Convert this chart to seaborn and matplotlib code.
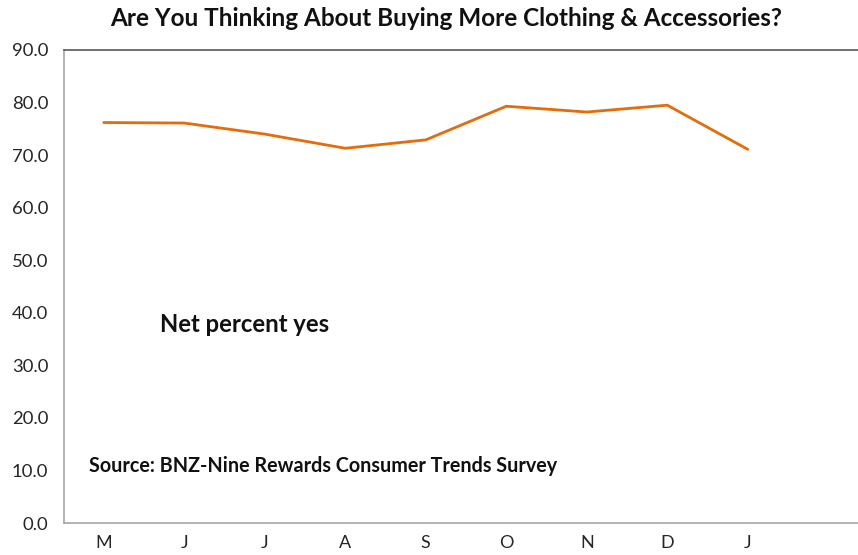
import matplotlib
matplotlib.use("Agg")
import matplotlib.pyplot as plt
import seaborn as sns
import pandas as pd

months = ["M", "J", "J", "A", "S", "O", "N", "D", "J"]
net_yes = [76.2, 76.1, 74.0, 71.3, 72.9, 79.3, 78.2, 79.5, 71.1]
y_ticks = [0, 10, 20, 30, 40, 50, 60, 70, 80, 90]

title = "Are You Thinking About Buying More Clothing & Accessories?"
series_note = "Net percent yes"
source_note = "Source: BNZ-Nine Rewards Consumer Trends Survey"

sns.set_theme(style="white")
plt.rcParams["font.family"] = ["Lato", "DejaVu Sans"]

df = pd.DataFrame({"pos": range(len(months)), "value": net_yes})

fig = plt.figure(figsize=(8.58, 5.55), dpi=100)
W, H = 858, 555
left, right, top, bottom = 63.5, 868.5, 50, 523
ax = fig.add_axes([left / W, (H - bottom) / H, (right - left) / W, (bottom - top) / H])

sns.lineplot(data=df, x="pos", y="value", ax=ax, color="#E46C0A", linewidth=2.0)

ax.set_xlim(-0.5, 9.5)
ax.set_ylim(0, 90)
ax.set_yticks(y_ticks)
ax.set_yticklabels([f"{v:.1f}" for v in y_ticks], fontsize=13.3, color="#262626")
ax.set_xticks(range(len(months)))
ax.set_xticklabels(months, fontsize=13.0, color="#262626")
ax.set_xticks([i - 0.5 for i in range(11)], minor=True)
ax.tick_params(axis="x", which="major", length=0, pad=9)
ax.tick_params(axis="x", which="minor", length=5, width=1, color="#A6A6A6", direction="out")
ax.tick_params(axis="y", which="major", length=5, width=1, color="#A6A6A6", direction="out", pad=6)
ax.set_xlabel("")
ax.set_ylabel("")

for side in ("left", "bottom"):
    ax.spines[side].set_color("#A6A6A6")
    ax.spines[side].set_linewidth(1.2)
ax.spines["top"].set_color("#595959")
ax.spines["top"].set_linewidth(1.2)
ax.spines["right"].set_visible(False)

ax.text(0.70, 37.7, series_note, fontsize=17.2, fontweight="bold", va="center", ha="left", color="#111111")
ax.text(-0.18, 10.85, source_note, fontsize=14.2, fontweight="bold", va="center", ha="left", color="#111111")

fig.text(446 / W, 1 - 18 / H, title, fontsize=17.5, fontweight="bold", ha="center", va="center", color="#111111")

fig.savefig("out.png", dpi=100)
